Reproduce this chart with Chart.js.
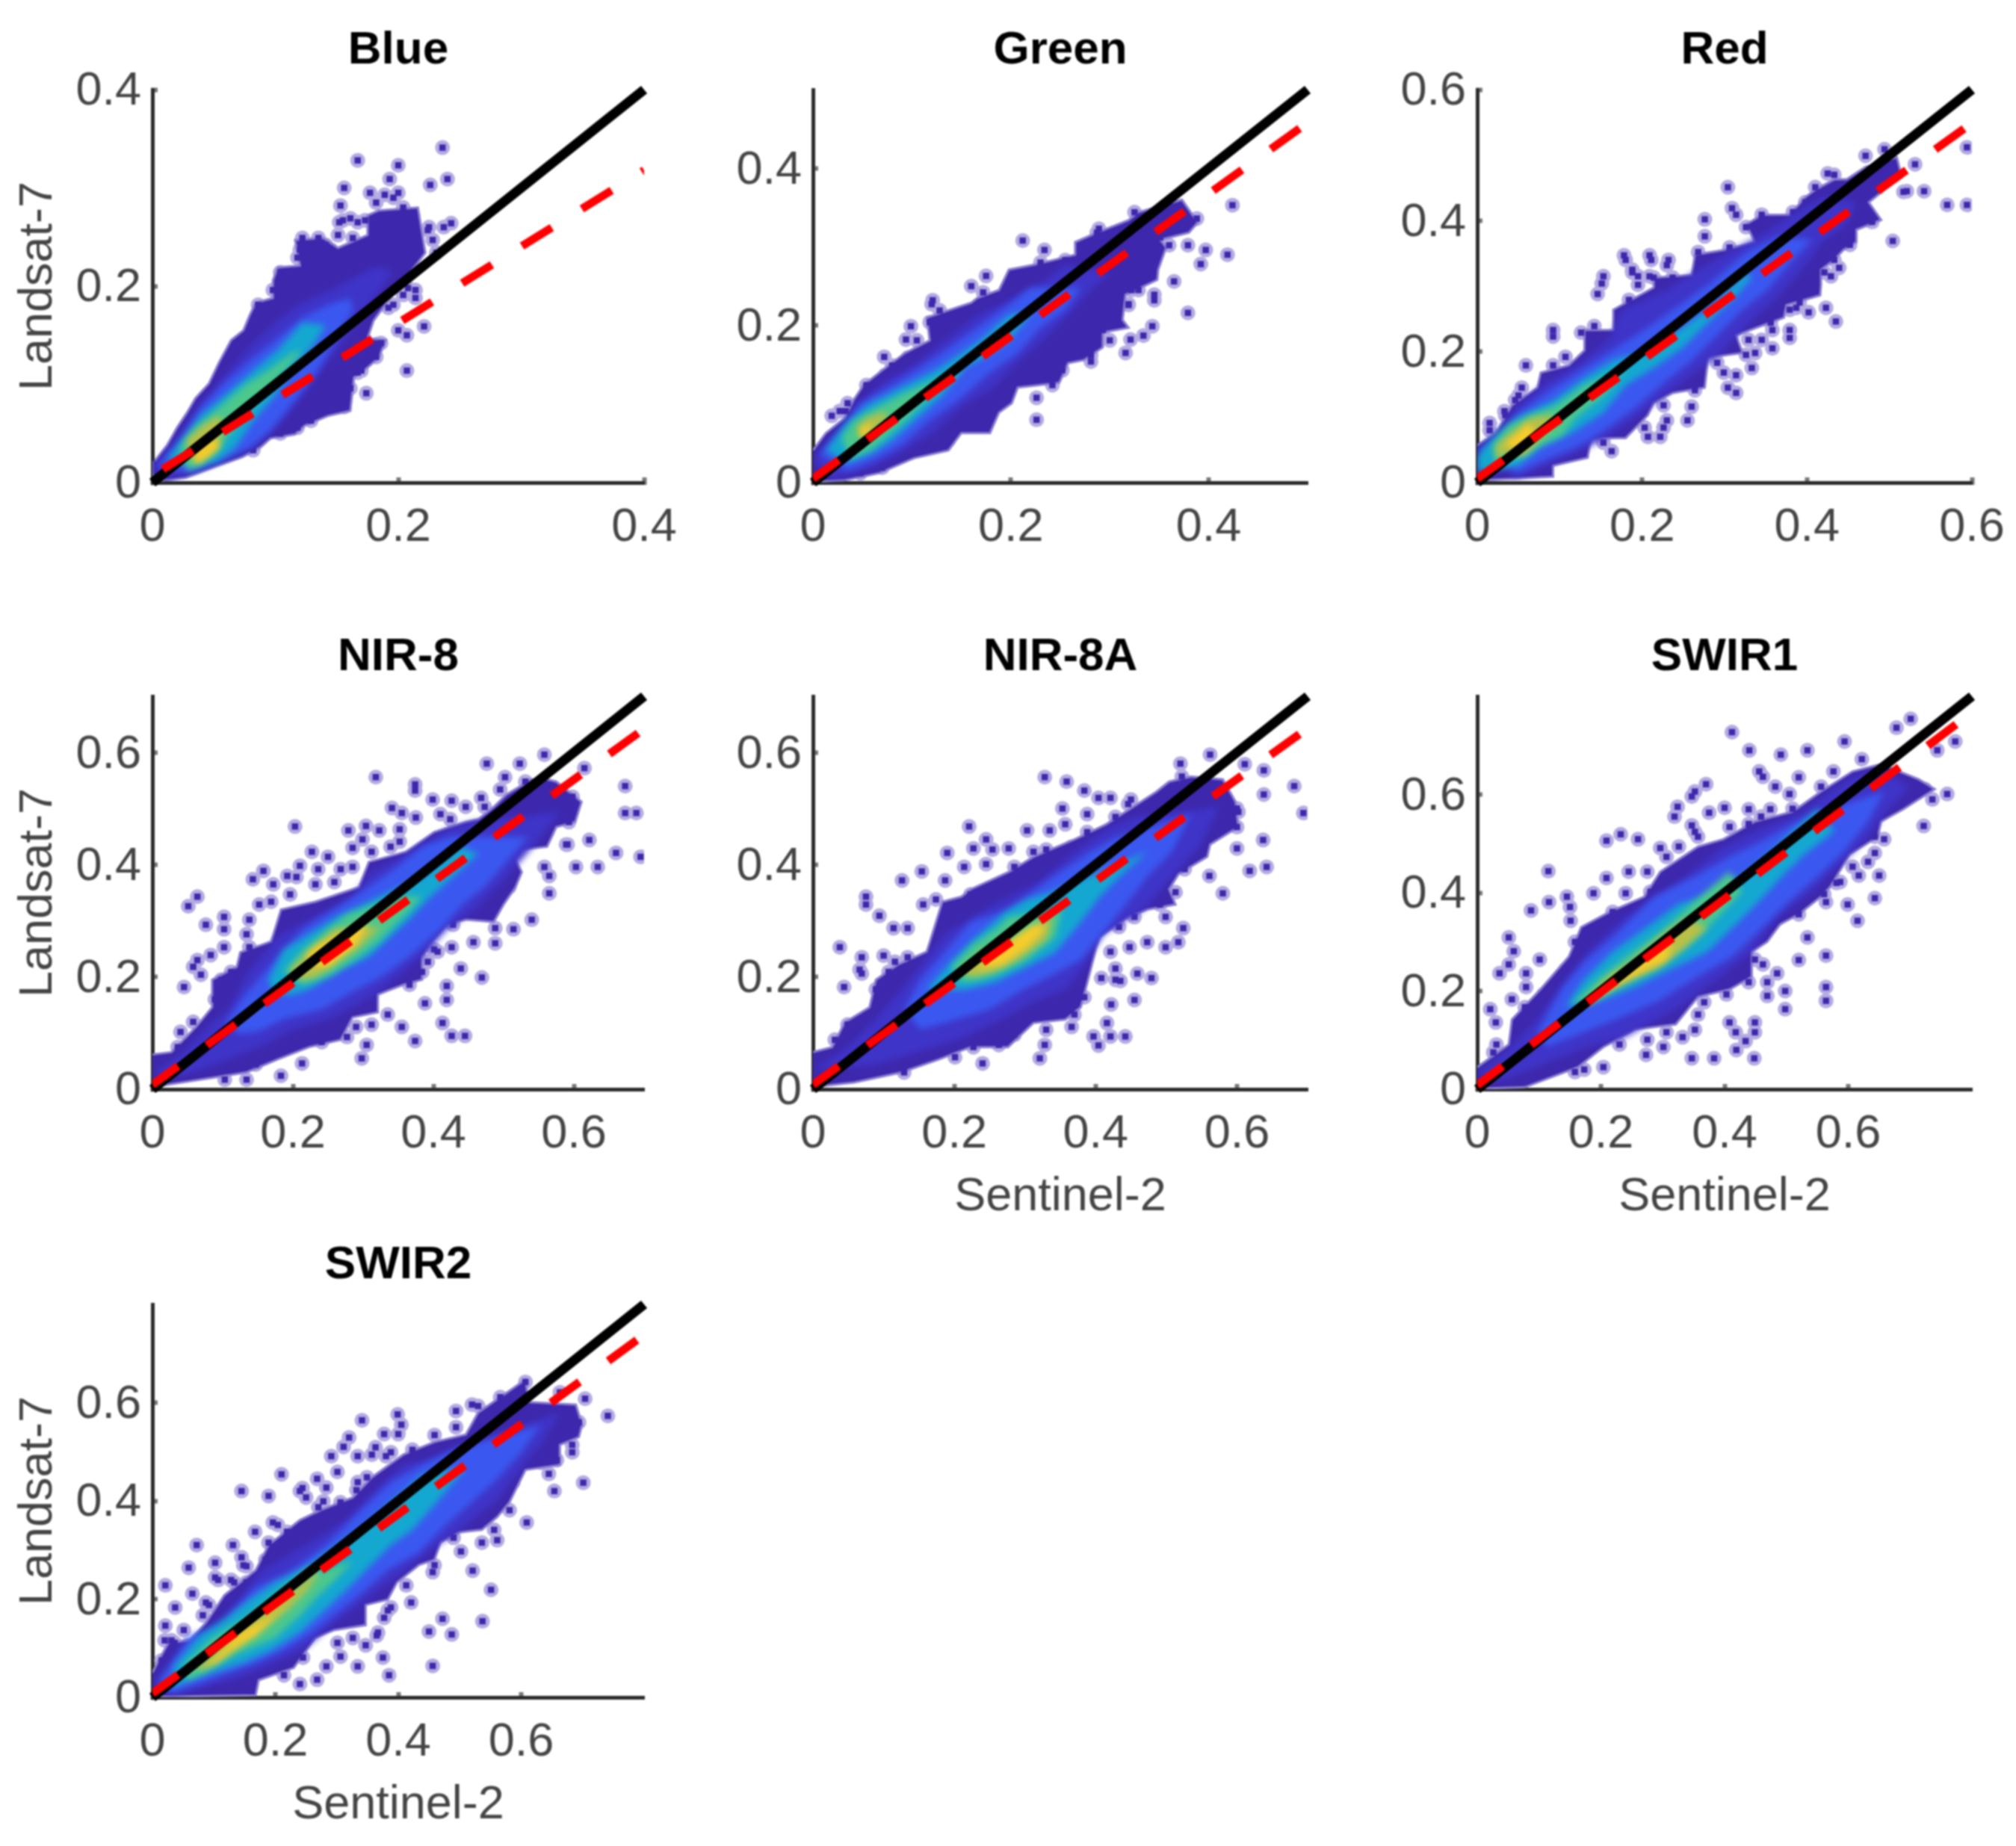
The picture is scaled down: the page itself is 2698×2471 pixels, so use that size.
<!DOCTYPE html>
<html><head><meta charset="utf-8">
<script src="https://cdn.jsdelivr.net/npm/chart.js@4/dist/chart.umd.js"></script>
<style>html,body{margin:0;padding:0;background:#fff;width:2698px;height:2471px;overflow:hidden}
canvas{position:absolute;filter:blur(1.1px)}</style></head><body>
<script>
// ---------- Blue ----------
const blueEdge=[[.002,.022],[.012,.038],[.020,.056],[.028,.071],[.035,.086],[.046,.101],[.054,.122],[.064,.145],[.074,.155],[.079,.170],[.084,.183],[.098,.188],[.098,.206],[.102,.219],[.120,.221],[.116,.247],[.139,.249],[.151,.239],[.175,.252],[.175,.272],[.184,.277],[.216,.280],[.219,.257],[.222,.234],[.216,.224],[.204,.206],[.180,.165],[.175,.147],[.190,.145],[.184,.127],[.175,.117],[.164,.107],[.161,.073],[.143,.068],[.124,.058],[.116,.049],[.096,.045],[.088,.036],[.073,.026],[.053,.017],[.027,.005],[0,.001],[0,.022]];
const blueB1=[[0,.015],[.020,.045],[.041,.081],[.061,.112],[.082,.142],[.102,.165],[.122,.183],[.153,.201],[.180,.219],[.196,.216],[.173,.175],[.157,.147],[.139,.117],[.122,.089],[.106,.063],[.088,.043],[.071,.030],[.041,.015],[.012,.003]];
const blueB2=[[.004,.017],[.020,.038],[.039,.076],[.059,.102],[.082,.127],[.102,.147],[.122,.168],[.143,.181],[.161,.188],[.163,.175],[.149,.145],[.133,.112],[.114,.081],[.096,.053],[.080,.036],[.061,.025],[.031,.010]];
const blueB3=[[.012,.025],[.027,.048],[.039,.068],[.061,.091],[.082,.114],[.102,.135],[.122,.163],[.141,.160],[.131,.140],[.114,.114],[.098,.086],[.082,.063],[.067,.035],[.053,.022],[.035,.015]];
const blueB4=[[.022,.035],[.035,.056],[.051,.073],[.075,.099],[.094,.114],[.114,.132],[.122,.135],[.106,.112],[.090,.089],[.073,.066],[.059,.043],[.055,.033],[.041,.020],[.029,.012]];
const blueB5=[[.027,.043],[.041,.058],[.053,.068],[.058,.060],[.055,.043],[.051,.033],[.035,.020]];
const blueB6=[[.033,.022],[.037,.035],[.050,.045],[.055,.038],[.047,.028],[.038,.020]];
const blueOut=[[.236,.341],[.167,.328],[.200,.323],[.193,.309],[.240,.309],[.226,.303],[.156,.300],[.177,.295],[.189,.293],[.200,.295],[.153,.282],[.155,.267],[.152,.265],[.161,.269],[.173,.267],[.225,.260],[.237,.260],[.243,.264],[.122,.249],[.135,.249],[.120,.237],[.145,.237],[.214,.188],[.214,.196],[.192,.178],[.221,.159],[.200,.155],[.207,.150],[.207,.114],[.174,.091],[.156,.077],[.183,.141],[.182,.128],[.170,.114],[.143,.075],[.204,.191],
[.212,.272],[.204,.280],[.196,.290],[.182,.285],[.167,.265],[.163,.249],[.151,.252],[.141,.242],[.118,.229],[.104,.214],[.098,.196],[.086,.181],[.224,.257],[.228,.247],[.231,.234],[.208,.198],[.196,.181],[.173,.145],[.186,.142],[.180,.130],[.175,.127],[.167,.112],[.161,.096],[.147,.086],[.137,.073],[.129,.063],[.118,.056],[.104,.050],[.082,.033]];
const blueDiag=[[0,0],[.4,.4]];
const blueFit=[[0,.007],[.4,.318]];
const blueTicks=[0,.2,.4];
// ---------- Green ----------
const greenEdge=[[0,.041],[.013,.063],[.032,.082],[.041,.105],[.051,.124],[.070,.143],[.093,.165],[.118,.181],[.115,.210],[.160,.229],[.166,.235],[.188,.245],[.198,.271],[.223,.277],[.265,.290],[.265,.306],[.287,.318],[.319,.334],[.329,.344],[.373,.360],[.389,.331],[.380,.318],[.351,.309],[.357,.299],[.349,.271],[.348,.258],[.316,.239],[.313,.207],[.319,.197],[.293,.191],[.293,.172],[.274,.156],[.258,.152],[.249,.127],[.207,.121],[.201,.101],[.188,.089],[.179,.063],[.150,.063],[.137,.041],[.102,.031],[.067,.012],[.032,.003],[0,.001]];
const greenB1=[[0,.028],[.019,.054],[.041,.092],[.070,.127],[.102,.150],[.134,.181],[.166,.213],[.198,.232],[.233,.255],[.255,.277],[.300,.267],[.281,.245],[.258,.213],[.230,.178],[.207,.153],[.182,.121],[.150,.096],[.121,.063],[.089,.038],[.061,.019],[.019,.004]];
const greenB2=[[.006,.036],[.029,.068],[.048,.101],[.080,.124],[.108,.146],[.134,.168],[.166,.197],[.198,.226],[.220,.248],[.271,.248],[.255,.220],[.230,.197],[.207,.165],[.179,.140],[.150,.108],[.118,.079],[.089,.047],[.061,.028],[.035,.015]];
const greenB3=[[.013,.041],[.032,.073],[.054,.098],[.089,.121],[.128,.146],[.147,.162],[.169,.181],[.198,.213],[.223,.219],[.198,.181],[.172,.159],[.153,.146],[.131,.111],[.108,.085],[.080,.054],[.061,.038],[.035,.025]];
const greenB4=[[.029,.057],[.041,.079],[.064,.095],[.093,.114],[.153,.146],[.124,.117],[.108,.098],[.093,.079],[.070,.054],[.057,.041],[.038,.031]];
const greenB5=[[.045,.070],[.054,.082],[.070,.089],[.077,.086],[.054,.054],[.048,.057]];
const greenB6=[[.048,.070],[.061,.074],[.054,.060],[.048,.058]];
const greenOut=[[.212,.308],[.234,.296],[.424,.353],[.379,.302],[.397,.296],[.419,.290],[.392,.278],[.365,.256],[.175,.263],[.160,.250],[.345,.232],[.379,.216],[.343,.199],[.334,.187],[.321,.182],[.316,.165],[.226,.108],[.226,.080],[.099,.199],[.094,.182],[.027,.091],[.033,.091],[.072,.160],[.120,.227],[.329,.245],[.319,.227],[.388,.336],[.281,.154],[.246,.140],[.242,.124],[.289,.323],
[.287,.318],[.325,.344],[.255,.283],[.230,.280],[.204,.264],[.172,.242],[.121,.232],[.128,.219],[.118,.204],[.105,.181],[.096,.159],[.080,.149],[.073,.137],[.054,.124],[.035,.101],[.019,.085],[.351,.312],[.360,.302],[.332,.283],[.338,.261],[.322,.245],[.319,.226],[.345,.239],[.293,.194],[.300,.181],[.281,.162],[.252,.143],[.223,.140],[.201,.124],[.169,.076],[.137,.054],[.099,.038],[.070,.019],[.048,.012]];
const greenDiag=[[0,0],[.5,.5]];
const greenFit=[[0,.005],[.5,.458]];
const greenTicks=[0,.2,.4];
// ---------- Red ----------
const redEdge=[[0,.057],[.023,.076],[.042,.118],[.073,.145],[.077,.168],[.111,.179],[.130,.202],[.130,.233],[.165,.233],[.165,.264],[.214,.298],[.214,.313],[.260,.317],[.264,.348],[.299,.355],[.337,.367],[.326,.394],[.345,.409],[.379,.409],[.398,.436],[.410,.447],[.433,.463],[.448,.463],[.471,.482],[.509,.497],[.515,.466],[.494,.447],[.475,.428],[.490,.401],[.460,.386],[.460,.367],[.444,.355],[.433,.340],[.417,.325],[.417,.302],[.416,.286],[.375,.271],[.372,.252],[.314,.225],[.322,.198],[.280,.191],[.276,.145],[.237,.137],[.214,.122],[.207,.103],[.180,.068],[.138,.068],[.134,.038],[.092,.026],[.092,.009],[0,.003]];
const redB1=[[0,.049],[.031,.087],[.050,.118],[.084,.153],[.126,.183],[.161,.221],[.176,.264],[.230,.294],[.268,.325],[.322,.363],[.345,.378],[.383,.409],[.421,.436],[.460,.428],[.448,.394],[.421,.371],[.394,.325],[.364,.283],[.333,.248],[.295,.198],[.260,.164],[.230,.137],[.192,.099],[.161,.073],[.123,.046],[.084,.026],[.046,.007]];
const redB2=[[.004,.049],[.031,.076],[.050,.106],[.088,.141],[.130,.175],[.169,.206],[.207,.237],[.245,.271],[.283,.305],[.326,.351],[.364,.375],[.406,.371],[.383,.340],[.352,.294],[.322,.264],[.291,.225],[.257,.183],[.226,.152],[.192,.114],[.157,.082],[.123,.056],[.088,.038],[.050,.015]];
const redB3=[[0,.042],[.023,.073],[.050,.100],[.092,.125],[.130,.160],[.165,.187],[.207,.201],[.245,.233],[.283,.267],[.326,.321],[.333,.313],[.314,.286],[.276,.240],[.249,.206],[.214,.175],[.180,.149],[.153,.107],[.115,.076],[.080,.057],[.050,.026],[0,.015]];
const redB4=[[.019,.057],[.038,.087],[.065,.103],[.096,.118],[.130,.149],[.180,.175],[.153,.133],[.119,.099],[.103,.072],[.077,.057],[.050,.038],[.023,.026]];
const redB5=[[.023,.057],[.042,.076],[.065,.099],[.092,.103],[.092,.087],[.069,.057],[.057,.041],[.038,.045],[.023,.038]];
const redB6=[[.034,.061],[.050,.076],[.061,.091],[.073,.072],[.057,.053],[.042,.053]];
const redOut=[[.304,.451],[.276,.402],[.276,.376],[.309,.419],[.314,.409],[.425,.472],[.471,.499],[.494,.509],[.531,.486],[.542,.445],[.521,.445],[.570,.424],[.594,.424],[.594,.512],[.504,.369],[.439,.328],[.429,.315],[.423,.267],[.435,.246],[.402,.260],[.387,.267],[.358,.233],[.379,.233],[.358,.205],[.337,.198],[.333,.175],[.314,.164],[.304,.145],[.314,.137],[.260,.116],[.255,.095],[.226,.084],[.207,.070],[.222,.070],[.163,.048],[.180,.084],[.153,.315],[.151,.304],[.146,.288],[.209,.347],[.178,.347],[.188,.325],[.232,.340],[.142,.239],[.092,.223],[.107,.192],[.059,.179],[.054,.145],[.033,.109],[.015,.091],[.092,.179],[.195,.315],[.209,.315],
[.180,.340],[.211,.340],[.230,.332],[.188,.321],[.214,.313],[.237,.313],[.195,.302],[.184,.279],[.268,.352],[.306,.359],[.345,.409],[.326,.390],[.383,.413],[.398,.428],[.433,.470],[.410,.451],[.517,.444],[.479,.398],[.452,.363],[.433,.340],[.421,.321],[.406,.309],[.391,.275],[.379,.264],[.356,.244],[.379,.221],[.329,.218],[.345,.218],[.326,.195],[.291,.183],[.299,.168],[.264,.141],[.226,.118],[.230,.095],[.203,.084],[.172,.087],[.153,.061],[.111,.045],[.077,.133],[.050,.133],[.046,.126],[.034,.103],[.015,.080],[.092,.233],[.126,.229]];
const redDiag=[[0,0],[.6,.6]];
const redFit=[[0,.006],[.6,.549]];
const redTicks=[0,.2,.4,.6];
// ---------- NIR-8 ----------
const nir8Edge=[[0,.062],[.027,.066],[.062,.111],[.085,.146],[.085,.195],[.120,.218],[.125,.244],[.169,.263],[.183,.320],[.232,.334],[.294,.360],[.308,.405],[.361,.423],[.401,.458],[.446,.476],[.464,.481],[.486,.503],[.504,.525],[.540,.552],[.562,.552],[.575,.548],[.611,.512],[.602,.476],[.575,.467],[.562,.432],[.526,.427],[.517,.409],[.526,.387],[.517,.360],[.500,.329],[.486,.298],[.446,.302],[.419,.293],[.397,.262],[.384,.235],[.384,.195],[.357,.186],[.321,.169],[.321,.137],[.285,.128],[.268,.088],[.223,.075],[.178,.053],[.134,.030],[.067,.017],[0,.004]];
const nir8B1=[[0,.026],[.045,.066],[.076,.106],[.111,.146],[.134,.204],[.178,.271],[.236,.311],[.285,.342],[.312,.387],[.375,.427],[.419,.463],[.455,.476],[.580,.494],[.544,.436],[.504,.378],[.464,.325],[.419,.285],[.388,.241],[.348,.200],[.312,.165],[.259,.128],[.201,.106],[.152,.075],[.089,.044],[.045,.026]];
const nir8B2=[[.103,.115],[.129,.164],[.147,.190],[.178,.235],[.214,.285],[.259,.320],[.303,.356],[.348,.396],[.384,.432],[.424,.450],[.535,.449],[.504,.405],[.473,.360],[.442,.329],[.410,.285],[.366,.236],[.326,.200],[.285,.173],[.241,.142],[.187,.125],[.152,.103],[.125,.098]];
const nir8B3=[[.165,.195],[.187,.249],[.223,.276],[.263,.307],[.294,.325],[.330,.347],[.384,.378],[.437,.432],[.464,.420],[.428,.379],[.392,.338],[.366,.303],[.339,.272],[.308,.236],[.268,.213],[.223,.178],[.201,.169],[.174,.169]];
const nir8B4=[[.187,.209],[.214,.249],[.250,.285],[.277,.311],[.348,.343],[.384,.343],[.357,.307],[.321,.262],[.294,.236],[.254,.204],[.214,.186]];
const nir8B5=[[.196,.213],[.223,.244],[.259,.285],[.325,.289],[.294,.253],[.263,.227],[.232,.200],[.210,.195]];
const nir8B6=[[.219,.240],[.236,.258],[.308,.298],[.290,.258],[.250,.218],[.232,.218]];
const nir8Out=[[.318,.556],[.374,.543],[.374,.532],[.476,.580],[.523,.580],[.558,.596],[.502,.556],[.615,.572],[.673,.540],[.673,.492],[.689,.492],[.203,.468],[.279,.461],[.304,.469],[.323,.461],[.352,.463],[.399,.516],[.341,.501],[.355,.492],[.375,.484],[.426,.514],[.468,.519],[.622,.444],[.660,.421],[.695,.414],[.603,.396],[.634,.396],[.565,.380],[.565,.349],[.540,.302],[.514,.285],[.488,.287],[.457,.262],[.488,.260],[.426,.253],[.406,.245],[.439,.215],[.469,.199],[.419,.184],[.419,.159],[.388,.153],[.413,.118],[.355,.111],[.426,.095],[.445,.095],[.374,.086],[.305,.079],[.298,.055],[.213,.046],[.183,.024],[.064,.343],[.051,.326],[.076,.293],[.102,.307],[.102,.285],[.102,.253],[.138,.302],[.134,.276],[.083,.239],[.064,.230],[.058,.218],[.069,.204],[.045,.182],[.143,.374],[.158,.389],[.192,.380],[.172,.365],[.210,.398],[.227,.423],[.285,.430],[.591,.436],[.558,.396],
[.236,.392],[.268,.392],[.285,.396],[.250,.414],[.299,.445],[.312,.423],[.339,.432],[.352,.441],[.410,.490],[.424,.481],[.446,.503],[.473,.503],[.495,.534],[.531,.548],[.598,.521],[.593,.476],[.562,.458],[.589,.436],[.491,.369],[.508,.360],[.473,.347],[.482,.316],[.428,.293],[.401,.249],[.392,.227],[.384,.209],[.366,.186],[.335,.133],[.312,.115],[.290,.111],[.277,.093],[.241,.084],[.196,.079],[.169,.066],[.147,.044],[.107,.039],[.134,.017],[.103,.017],[.058,.120],[.040,.102],[.036,.075],[.067,.102],[.089,.160],[.098,.195],[.112,.209],[.138,.253],[.152,.329],[.169,.334],[.196,.347],[.205,.378],[.232,.365],[.259,.369]];
const nir8Diag=[[0,0],[.7,.7]];
const nir8Fit=[[0,.008],[.7,.642]];
const nir8Ticks=[0,.2,.4,.6];
// ---------- NIR-8A ----------
const nir8aEdge=[[0,.066],[.027,.075],[.045,.119],[.080,.146],[.089,.195],[.120,.222],[.161,.245],[.183,.334],[.210,.343],[.223,.356],[.277,.387],[.312,.414],[.370,.445],[.415,.472],[.464,.512],[.486,.530],[.504,.548],[.535,.557],[.580,.552],[.598,.512],[.602,.467],[.562,.436],[.558,.414],[.517,.383],[.504,.356],[.513,.329],[.473,.320],[.446,.307],[.406,.271],[.401,.253],[.392,.208],[.379,.146],[.357,.124],[.312,.118],[.276,.075],[.223,.075],[.178,.053],[.125,.030],[.058,.012],[0,.004]];
const nir8aB1=[[0,.035],[.045,.070],[.085,.119],[.125,.177],[.156,.226],[.187,.276],[.250,.325],[.321,.370],[.379,.432],[.424,.468],[.459,.485],[.575,.503],[.549,.436],[.508,.378],[.468,.320],[.410,.276],[.388,.227],[.357,.177],[.312,.155],[.259,.119],[.205,.088],[.147,.066],[.089,.044]];
const nir8aB2=[[.129,.142],[.152,.195],[.183,.240],[.223,.298],[.277,.320],[.339,.378],[.392,.423],[.424,.445],[.535,.490],[.508,.423],[.473,.378],[.446,.334],[.415,.285],[.379,.231],[.348,.209],[.299,.178],[.250,.142],[.192,.120],[.152,.106]];
const nir8aB3=[[.161,.177],[.192,.222],[.223,.262],[.272,.316],[.303,.338],[.339,.352],[.473,.423],[.433,.378],[.406,.343],[.379,.298],[.343,.244],[.303,.218],[.259,.191],[.214,.177],[.192,.177]];
const nir8aB4=[[.196,.218],[.227,.258],[.263,.289],[.277,.307],[.352,.320],[.343,.271],[.303,.231],[.268,.209],[.236,.195],[.210,.191]];
const nir8aB5=[[.210,.213],[.241,.249],[.285,.258],[.321,.298],[.339,.303],[.330,.267],[.290,.231],[.254,.209],[.223,.200]];
const nir8aB6=[[.285,.271],[.312,.293],[.330,.289],[.303,.253],[.268,.222],[.232,.213]];
const nir8aOut=[[.328,.556],[.359,.548],[.384,.532],[.353,.500],[.404,.519],[.421,.519],[.520,.580],[.562,.596],[.611,.579],[.638,.568],[.681,.540],[.638,.525],[.600,.500],[.694,.492],[.637,.444],[.600,.429],[.642,.396],[.618,.389],[.561,.380],[.580,.349],[.524,.287],[.517,.262],[.499,.253],[.473,.262],[.448,.253],[.421,.245],[.428,.215],[.459,.206],[.479,.198],[.408,.198],[.435,.193],[.455,.159],[.422,.151],[.416,.118],[.366,.111],[.397,.094],[.421,.094],[.442,.094],[.404,.078],[.321,.055],[.240,.046],[.328,.079],[.221,.468],[.303,.461],[.335,.461],[.245,.445],[.227,.429],[.190,.421],[.277,.429],[.154,.388],[.126,.372],[.187,.372],[.075,.343],[.075,.329],[.094,.309],[.114,.287],[.134,.287],[.038,.253],[.069,.235],[.100,.238],[.066,.213],[.069,.206],[.044,.182],[.388,.490],[.357,.472],[.254,.427],[.600,.467],
[.312,.423],[.330,.427],[.339,.414],[.366,.432],[.388,.458],[.428,.485],[.446,.508],[.450,.516],[.495,.521],[.522,.557],[.580,.516],[.602,.494],[.571,.467],[.553,.458],[.535,.414],[.526,.392],[.513,.351],[.491,.329],[.499,.307],[.455,.307],[.433,.289],[.428,.195],[.384,.164],[.370,.133],[.330,.106],[.285,.097],[.263,.079],[.227,.075],[.201,.057],[.165,.066],[.129,.030],[.098,.035],[.049,.115],[.031,.088],[.058,.093],[.089,.178],[.107,.209],[.116,.227],[.134,.235],[.156,.329],[.174,.338],[.223,.347],[.214,.396],[.245,.401],[.285,.396],[.263,.360]];
const nir8aDiag=[[0,0],[.7,.7]];
const nir8aFit=[[0,.008],[.7,.643]];
const nir8aTicks=[0,.2,.4,.6];
// ---------- SWIR1 ----------
const swir1Edge=[[0,.045],[.051,.091],[.056,.142],[.102,.203],[.148,.270],[.168,.330],[.214,.361],[.270,.392],[.296,.443],[.357,.494],[.398,.509],[.449,.545],[.510,.565],[.556,.606],[.607,.647],[.653,.662],[.714,.631],[.740,.611],[.689,.570],[.653,.545],[.648,.514],[.602,.478],[.571,.412],[.556,.392],[.520,.356],[.490,.336],[.469,.300],[.444,.280],[.444,.229],[.408,.203],[.357,.188],[.321,.132],[.255,.122],[.204,.086],[.163,.045],[.077,.004],[0,.001]];
const swir1B1=[[0,.030],[.051,.081],[.097,.142],[.148,.229],[.184,.285],[.240,.351],[.316,.412],[.393,.489],[.459,.530],[.520,.560],[.602,.631],[.653,.651],[.699,.616],[.658,.560],[.632,.514],[.587,.458],[.541,.402],[.485,.351],[.444,.280],[.393,.229],[.326,.167],[.240,.107],[.179,.086],[.117,.055],[.041,.019]];
const swir1B2=[[.097,.116],[.138,.207],[.173,.259],[.224,.315],[.286,.392],[.352,.433],[.408,.473],[.459,.504],[.510,.540],[.546,.560],[.658,.606],[.632,.545],[.597,.489],[.551,.433],[.500,.377],[.459,.326],[.413,.270],[.357,.229],[.291,.178],[.224,.142],[.163,.111],[.112,.086]];
const swir1B3=[[.143,.167],[.173,.223],[.219,.280],[.270,.326],[.326,.377],[.367,.392],[.439,.443],[.551,.571],[.577,.525],[.530,.479],[.500,.443],[.459,.387],[.423,.341],[.372,.280],[.321,.249],[.255,.208],[.204,.182]];
const swir1B4=[[.153,.172],[.199,.228],[.240,.269],[.296,.320],[.352,.382],[.408,.443],[.428,.402],[.393,.356],[.357,.310],[.321,.274],[.275,.239],[.219,.208],[.173,.177]];
const swir1B5=[[.168,.172],[.214,.228],[.250,.259],[.301,.315],[.337,.346],[.372,.330],[.337,.290],[.296,.249],[.250,.223],[.204,.193],[.179,.172]];
const swir1B6=[[.184,.183],[.219,.228],[.265,.264],[.316,.295],[.306,.264],[.265,.239],[.224,.213],[.199,.193]];
const swir1Out=[[.412,.727],[.440,.690],[.491,.681],[.534,.690],[.594,.708],[.701,.754],[.678,.736],[.773,.708],[.744,.690],[.370,.621],[.352,.606],[.347,.596],[.456,.647],[.462,.636],[.482,.616],[.520,.635],[.505,.601],[.324,.575],[.319,.555],[.400,.573],[.375,.563],[.439,.570],[.474,.570],[.347,.537],[.352,.524],[.408,.534],[.209,.506],[.232,.519],[.260,.509],[.296,.491],[.115,.444],[.209,.430],[.240,.399],[.188,.399],[.145,.392],[.116,.381],[.087,.364],[.151,.343],[.150,.371],[.051,.309],[.059,.281],[.101,.264],[.051,.254],[.036,.236],[.079,.236],[.079,.208],[.021,.163],[.030,.136],[.056,.183],[.534,.309],[.520,.263],[.564,.272],[.564,.208],[.564,.180],[.498,.200],[.498,.163],[.469,.218],[.469,.190],[.485,.236],[.615,.343],[.643,.389],[.722,.536],[.658,.509],[.643,.481],[.650,.435],[.760,.601],[.736,.590],[.564,.381],[.599,.376],[.408,.136],[.418,.116],[.449,.136],[.449,.116],[.434,.098],[.419,.080],[.347,.063],[.383,.063],[.448,.063],[.462,.254],[.581,.420],[.617,.435],[.352,.121],[.332,.106],[.301,.086],[.273,.070],
[.357,.514],[.326,.494],[.306,.473],[.275,.443],[.245,.443],[.280,.402],[.219,.361],[.179,.310],[.158,.300],[.143,.244],[.107,.193],[.077,.167],[.066,.126],[.031,.091],[.026,.075],[.459,.555],[.439,.540],[.510,.571],[.556,.616],[.576,.647],[.622,.672],[.663,.626],[.724,.611],[.663,.586],[.643,.514],[.632,.463],[.607,.453],[.587,.422],[.561,.397],[.520,.356],[.485,.346],[.459,.310],[.449,.264],[.439,.218],[.403,.193],[.367,.177],[.357,.152],[.306,.116],[.275,.101],[.230,.091],[.204,.045],[.173,.040],[.158,.035]];
const swir1Diag=[[0,0],[.8,.8]];
const swir1Fit=[[0,.008],[.8,.767]];
const swir1Ticks=[0,.2,.4,.6];
// ---------- SWIR2 ----------
const swir2Edge=[[0,.050],[.010,.075],[.026,.111],[.061,.116],[.087,.152],[.117,.208],[.168,.259],[.189,.310],[.240,.361],[.275,.382],[.326,.407],[.357,.448],[.408,.494],[.459,.520],[.510,.535],[.530,.580],[.566,.611],[.607,.647],[.612,.601],[.689,.596],[.699,.555],[.694,.530],[.663,.514],[.663,.473],[.607,.463],[.581,.397],[.561,.367],[.536,.341],[.500,.336],[.469,.316],[.459,.280],[.434,.270],[.398,.234],[.383,.199],[.347,.188],[.347,.147],[.296,.137],[.265,.121],[.230,.060],[.173,.035],[.168,.004],[0,.001]];
const swir2B1=[[0,.029],[.031,.050],[.082,.131],[.122,.172],[.179,.259],[.250,.310],[.316,.361],[.372,.433],[.408,.473],[.459,.488],[.510,.514],[.663,.580],[.632,.514],[.607,.479],[.561,.402],[.510,.351],[.464,.310],[.418,.265],[.372,.224],[.326,.178],[.286,.142],[.250,.101],[.209,.075],[.143,.040],[.031,.004]];
const swir2B2=[[.010,.035],[.061,.126],[.107,.142],[.168,.224],[.224,.255],[.286,.315],[.332,.372],[.388,.438],[.439,.473],[.490,.504],[.632,.555],[.597,.494],[.556,.438],[.515,.392],[.474,.346],[.434,.295],[.383,.259],[.347,.219],[.301,.173],[.260,.132],[.214,.096],[.168,.070],[.082,.030],[.031,.009]];
const swir2B3=[[.036,.065],[.077,.126],[.117,.158],[.158,.199],[.199,.234],[.250,.265],[.306,.315],[.347,.351],[.439,.453],[.510,.468],[.459,.392],[.423,.341],[.388,.310],[.352,.265],[.316,.219],[.275,.172],[.240,.132],[.194,.096],[.148,.070],[.061,.035],[.031,.019]];
const swir2B4=[[.051,.065],[.097,.121],[.153,.162],[.214,.223],[.255,.264],[.275,.255],[.326,.279],[.301,.244],[.270,.208],[.240,.167],[.199,.121],[.133,.086],[.082,.050],[.056,.034]];
const swir2B5=[[.071,.060],[.112,.101],[.148,.142],[.184,.177],[.240,.228],[.275,.264],[.255,.223],[.224,.183],[.194,.152],[.153,.116],[.117,.081],[.082,.055]];
const swir2B6=[[.087,.065],[.102,.081],[.143,.132],[.189,.162],[.230,.198],[.204,.172],[.168,.126],[.128,.096],[.102,.070]];
const swir2Out=[[.341,.564],[.399,.576],[.405,.555],[.494,.583],[.494,.550],[.530,.593],[.566,.611],[.607,.642],[.704,.608],[.741,.573],[.377,.536],[.400,.536],[.320,.529],[.311,.510],[.291,.491],[.334,.491],[.363,.509],[.380,.491],[.210,.454],[.268,.445],[.301,.459],[.244,.426],[.240,.420],[.283,.427],[.145,.420],[.189,.410],[.278,.399],[.334,.438],[.349,.448],[.167,.337],[.196,.356],[.219,.337],[.072,.310],[.131,.310],[.145,.285],[.102,.274],[.059,.264],[.153,.267],[.021,.228],[.065,.211],[.037,.183],[.087,.193],[.107,.239],[.128,.239],[.021,.146],[.051,.137],[.020,.116],[.036,.111],[.683,.499],[.653,.494],[.701,.437],[.654,.420],[.645,.455],[.609,.356],[.587,.438],[.581,.381],[.561,.320],[.502,.297],[.521,.258],[.456,.255],[.413,.228],[.551,.219],[.421,.193],[.388,.183],[.377,.162],[.472,.160],[.537,.155],[.450,.134],[.487,.128],[.365,.126],[.306,.083],[.375,.081],[.334,.063],[.456,.064],[.385,.045],[.268,.036],[.240,.027],[.283,.063],
[.250,.407],[.270,.387],[.306,.397],[.332,.422],[.357,.494],[.388,.499],[.423,.504],[.459,.534],[.520,.596],[.561,.585],[.663,.621],[.694,.560],[.683,.514],[.632,.478],[.658,.483],[.587,.453],[.571,.412],[.541,.376],[.556,.341],[.536,.315],[.490,.325],[.459,.269],[.383,.177],[.367,.132],[.326,.121],[.347,.106],[.301,.111],[.245,.081],[.204,.065],[.214,.045],[.168,.055],[.153,.234],[.133,.234],[.102,.244],[.148,.269],[.184,.280],[.204,.295],[.189,.315],[.204,.351],[.260,.356],[.092,.188],[.082,.167],[.031,.116],[.056,.106],[.015,.075]];
const swir2Diag=[[0,0],[.8,.8]];
const swir2Fit=[[0,.008],[.8,.738]];
const swir2Ticks=[0,.2,.4,.6];

const titles=['Blue','Green','Red','NIR-8','NIR-8A','SWIR1','SWIR2'];
const maxima=[.4,.5,.6,.7,.7,.8,.8];
const yLabel='Landsat-7', xLabel='Sentinel-2';

// layout only
const layout=[[204,120,658,526],[1088,120,662,526],[1977,120,662,526],[204,932,658,526],[1088,932,662,526],[1977,932,662,526],[204,1746,658,526]];
const showY=[1,0,0,1,0,0,1], showX=[0,0,0,0,1,1,1];
const dashShift=[-16.5,5,5,5,5,5,5];
const series=[
 [blueEdge,[blueB1,blueB2,blueB3,blueB4,blueB5,blueB6],blueOut,blueDiag,blueFit,blueTicks],
 [greenEdge,[greenB1,greenB2,greenB3,greenB4,greenB5,greenB6],greenOut,greenDiag,greenFit,greenTicks],
 [redEdge,[redB1,redB2,redB3,redB4,redB5,redB6],redOut,redDiag,redFit,redTicks],
 [nir8Edge,[nir8B1,nir8B2,nir8B3,nir8B4,nir8B5,nir8B6],nir8Out,nir8Diag,nir8Fit,nir8Ticks],
 [nir8aEdge,[nir8aB1,nir8aB2,nir8aB3,nir8aB4,nir8aB5,nir8aB6],nir8aOut,nir8aDiag,nir8aFit,nir8aTicks],
 [swir1Edge,[swir1B1,swir1B2,swir1B3,swir1B4,swir1B5,swir1B6],swir1Out,swir1Diag,swir1Fit,swir1Ticks],
 [swir2Edge,[swir2B1,swir2B2,swir2B3,swir2B4,swir2B5,swir2B6],swir2Out,swir2Diag,swir2Fit,swir2Ticks]];

const bandColors=['#3f34c8','#3a58f0','#14a8d0','#4cc88c','#b8c048','#f6cc2c'];
const INDIGO='#3d28ad', HALO='#b4abe2', FONT='"Liberation Sans", Arial, sans-serif';
const pts=a=>a.map(([x,y])=>({x,y}));

// Soften the density bands: must run before the Filler plugin paints them.
const softBands={id:'softBands',
 beforeDatasetDraw(chart,args){const d=chart.data.datasets[args.index];if(d.soft)chart.ctx.filter='blur('+d.soft+'px)';},
 afterDatasetDraw(chart){chart.ctx.filter='none';}};
const filler=Chart.registry.getPlugin('filler');
Chart.unregister(filler);Chart.register(softBands,filler);

titles.forEach((title,i)=>{
 const [L,T,W,H]=layout[i], M=maxima[i], [edge,bands,out,diag,fit,tv]=series[i];
 const padL=200,padT=100,padR=50,padB=190;
 const c=document.createElement('canvas');
 c.width=padL+W+padR;c.height=padT+H+padB;
 c.style.left=(L-padL)+'px';c.style.top=(T-padT)+'px';
 c.style.width=c.width+'px';c.style.height=c.height+'px';
 document.body.appendChild(c);
 const ds=[];
 ds.push({data:pts(out),pointStyle:'circle',pointRadius:10,backgroundColor:HALO,borderWidth:0,showLine:false,order:30});
 ds.push({data:pts(edge),showLine:true,fill:'shape',backgroundColor:INDIGO,borderColor:'#8a7dd0',borderWidth:3,pointRadius:0,tension:0,order:29});
 ds.push({data:pts(out),pointStyle:'rect',pointRadius:6,backgroundColor:INDIGO,borderWidth:0,showLine:false,order:28});
 bands.forEach((b,k)=>ds.push({data:pts(b),showLine:true,fill:'shape',backgroundColor:bandColors[k],borderWidth:0,pointRadius:0,tension:0,soft:4,order:20-k}));
 ds.push({data:pts(diag),showLine:true,fill:false,borderColor:'#000',borderWidth:13,pointRadius:0,tension:0,clip:8,order:2});
 ds.push({data:pts(fit),showLine:true,fill:false,borderColor:'#ff0000',borderWidth:11,borderDash:i===0?[47,47.3]:[47.5,47.5],borderDashOffset:dashShift[i],pointRadius:0,tension:0,order:1});
 const tick={font:{family:FONT,size:63},color:'#444',autoSkip:false,maxRotation:0,minRotation:0,
   callback:v=>Math.abs(v)<1e-9?'0':(+v.toFixed(1)).toString()};
 const grid={drawOnChartArea:false,drawTicks:true,tickLength:-7,tickWidth:6,color:'#777'};
 const border={display:true,color:'#2b2b2b',width:5};
 const useTicks=s=>{s.ticks=tv.map(value=>({value}));};
 new Chart(c,{type:'scatter',data:{datasets:ds},options:{
  responsive:false,animation:false,devicePixelRatio:1,
  layout:{padding:{left:0,right:padR,top:0,bottom:0}},
  plugins:{legend:{display:false},tooltip:{enabled:false},
   title:{display:true,text:title,fullSize:false,color:'#000',font:{family:FONT,size:62,weight:'bold',lineHeight:1},padding:{top:17,bottom:21}}},
  scales:{
   x:{type:'linear',min:0,max:M,z:1,offset:false,grid,border,afterBuildTicks:useTicks,
      ticks:{...tick,padding:30},
      title:{display:!!showX[i],text:xLabel,color:'#444',font:{family:FONT,size:63,lineHeight:1},padding:14},
      afterFit:s=>{s.height=padB;s.paddingLeft=0;s.paddingRight=0;}},
   y:{type:'linear',min:0,max:M,z:1,offset:false,grid,border,afterBuildTicks:useTicks,
      ticks:{...tick,padding:22,labelOffset:3},
      title:{display:!!showY[i],text:yLabel,color:'#444',font:{family:FONT,size:63,lineHeight:1},padding:16},
      afterFit:s=>{s.width=padL;s.paddingTop=0;s.paddingBottom=0;}}
  }}});
});
</script></body></html>
